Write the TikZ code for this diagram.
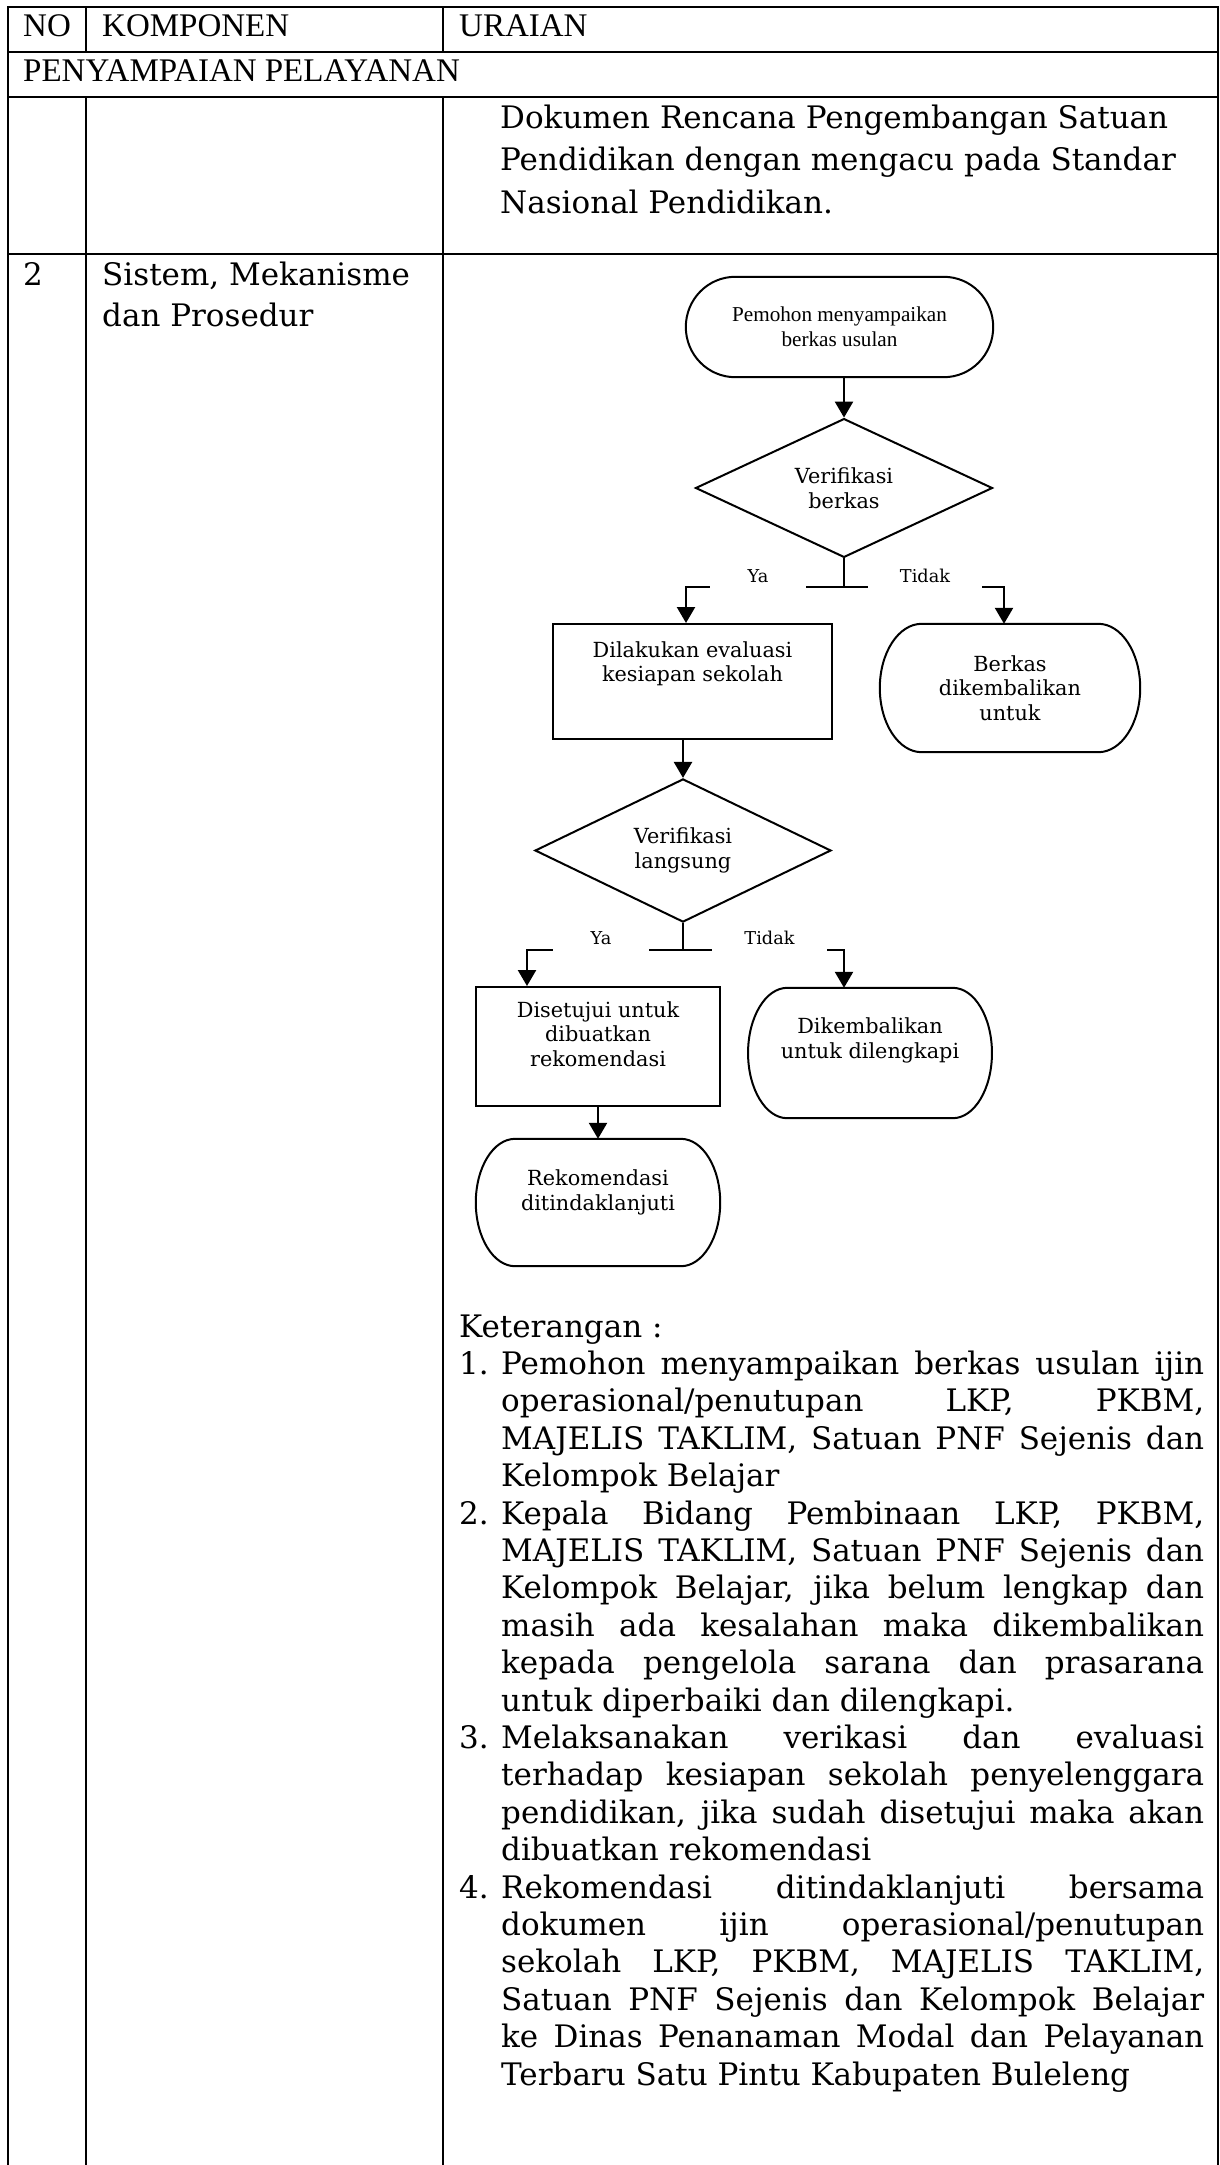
\documentclass[tikz,border=0pt]{standalone}
\usepackage{fontspec}
\setmainfont{Liberation Serif}
\newfontfamily\bk{DejaVu Serif}
\newfontfamily\tm{Liberation Serif}
\usetikzlibrary{arrows.meta,shapes.geometric,calc}

% terminator outline around a (frameless) node: straight top/bottom, half-ellipse ends
\newcommand\termshape[1]{%
  \draw[shp] let \p1=(#1.north west), \p2=(#1.south east),
    \n1={0.161*(\x2-\x1)}, \n2={0.5*(\y1-\y2)} in
    (\x1+\n1,\y1) -- (\x2-\n1,\y1)
    arc[start angle=90,end angle=-90,x radius=\n1,y radius=\n2]
    -- (\x1+\n1,\y2)
    arc[start angle=270,end angle=90,x radius=\n1,y radius=\n2] -- cycle;}

\newcommand\ketitem[1]{\par\noindent\hangindent=42pt\hangafter=1\makebox[42pt][l]{#1}\ignorespaces}

\begin{document}
\begin{tikzpicture}[x=1pt,y=1pt,
  grid/.style={line width=2.7pt},
  shp/.style={draw, line width=2pt},
  conn/.style={line width=2.4pt},
  arr/.style={conn, -{Triangle[length=16pt,width=18pt]}},
  hd/.style={font=\tm\fontsize{33}{38}\selectfont, anchor=base west, inner sep=0},
  bd/.style={font=\bk\fontsize{31}{42.5}\selectfont, anchor=base west, inner sep=0, align=left},
  flt/.style={font=\bk\fontsize{20.8}{24.5}\selectfont, align=center, inner sep=0},
  lbl/.style={font=\bk\fontsize{17.7}{20}\selectfont, fill=white, inner xsep=0, inner ysep=10pt, text depth=0pt, anchor=base}
]
\useasboundingbox (0,0) rectangle (1220,-2165);
\fill[white] (0,0) rectangle (1220,-2165);

% table frame and rules
\draw[grid, line join=miter] (8,-2175) -- (8,-7) -- (1218,-7) -- (1218,-2175);
\draw[grid] (8,-52) -- (1218,-52);
\draw[grid] (8,-97) -- (1218,-97);
\draw[grid] (8,-254) -- (1218,-254);
\draw[grid] (86,-7) -- (86,-52);
\draw[grid] (443,-7) -- (443,-52);
\draw[grid] (86,-97) -- (86,-2175);
\draw[grid] (443,-97) -- (443,-2175);

% header and section titles
\node[hd] (hno) at (23,-37) {NO};
\node[hd] (hkomp) at (102,-37) {KOMPONEN};
\node[hd] (hur) at (459,-37) {URAIAN};
\node[hd] (hsec) at (23,-82) {PENYAMPAIAN PELAYANAN};

% first body row (base anchor = baseline of the last line)
\node[bd] (dok) at (500,-213) {Dokumen Rencana Pengembangan Satuan\\Pendidikan dengan mengacu pada Standar\\Nasional Pendidikan.};

% second body row
\node[bd] (num2) at (23,-285) {2};
\node[bd, font=\bk\fontsize{31}{41}\selectfont] (komp2) at (102,-326) {Sistem, Mekanisme\\dan Prosedur};

% flowchart
\node[flt, font=\tm\fontsize{21.2}{25}\selectfont, minimum width=307pt, minimum height=100pt] (t1) at (839.5,-327) {Pemohon menyampaikan\\berkas usulan};
\termshape{t1}

\node[shp, diamond, flt, minimum width=297pt, minimum height=129pt] (d1) at (844,-488) {Verifikasi\\berkas};

\node[shp, rectangle, minimum width=279pt, minimum height=115pt] (b1) at (692.5,-681.5) {};
\node[flt, anchor=base] (b1t) at (692.5,-681.5) {Dilakukan evaluasi\\kesiapan sekolah};

\node[flt, minimum width=260pt, minimum height=128pt] (t2) at (1010,-688) {Berkas\\dikembalikan\\untuk};
\termshape{t2}

\node[shp, diamond, flt, minimum width=296pt, minimum height=128pt] (d2) at (683,-850.5) {Verifikasi\\langsung};

\node[shp, rectangle, minimum width=244pt, minimum height=119pt] (b2) at (598,-1046.5) {};
\node[flt, anchor=base] (b2t) at (598,-1066) {Disetujui untuk\\dibuatkan\\rekomendasi};

\node[flt, minimum width=243.5pt, minimum height=130pt] (t4) at (870,-1053) {};
\termshape{t4}
\node[flt, anchor=base] (t4t) at (870,-1058) {Dikembalikan\\untuk dilengkapi};

\node[flt, minimum width=244pt, minimum height=127pt] (t3) at (598,-1202.5) {};
\termshape{t3}
\node[flt, anchor=base] (t3t) at (598,-1210) {Rekomendasi\\ditindaklanjuti};

% connectors
\draw[arr] (d1.north |- t1.south) -- (d1.north);
\coordinate (j1) at ($(d1.center)+(0,-99)$);
\draw[conn] (d1.south) -- (j1);
\draw[arr] (j1) -| ([xshift=-6.5pt]b1.north);
\draw[arr] (j1) -| ([xshift=-6pt]t2.north);
\node[lbl, minimum width=96pt] (ya1) at (758,-582) {Ya};
\node[lbl, minimum width=114pt] (tidak1) at (925,-582) {Tidak};

\draw[arr] (d2.north |- b1.south) -- (d2.north);
\coordinate (j2) at ($(d2.center)+(0,-99.5)$);
\draw[conn] (d2.south) -- (j2);
\draw[arr] (j2) -| ([xshift=52pt]b2.north west);
\draw[arr] (j2) -| ([xshift=-26pt]t4.north);
\node[lbl, minimum width=96pt] (ya2) at (601,-944) {Ya};
\node[lbl, minimum width=115pt] (tidak2) at (769.5,-944) {Tidak};

\draw[arr] (b2.south) -- (t3.north);

% notes under the flowchart
\node[font=\bk\fontsize{31}{37.4}\selectfont, anchor=base west, inner sep=0, text width=745pt, align=justify] (ket) at (459,-1337) {%
\hyphenpenalty=10000 \exhyphenpenalty=10000 \tolerance=10000
\noindent Keterangan :
\ketitem{1.}Pemohon menyampaikan berkas usulan ijin\linebreak
operasional/penutupan LKP, PKBM,\linebreak
MAJELIS TAKLIM, Satuan PNF Sejenis dan\linebreak
Kelompok Belajar
\ketitem{2.}Kepala Bidang Pembinaan LKP, PKBM,\linebreak
MAJELIS TAKLIM, Satuan PNF Sejenis dan\linebreak
Kelompok Belajar, jika belum lengkap dan\linebreak
masih ada kesalahan maka dikembalikan\linebreak
kepada pengelola sarana dan prasarana\linebreak
untuk diperbaiki dan dilengkapi.
\ketitem{3.}Melaksanakan verikasi dan evaluasi\linebreak
terhadap kesiapan sekolah penyelenggara\linebreak
pendidikan, jika sudah disetujui maka akan\linebreak
dibuatkan rekomendasi
\ketitem{4.}Rekomendasi ditindaklanjuti bersama\linebreak
dokumen ijin operasional/penutupan\linebreak
sekolah LKP, PKBM, MAJELIS TAKLIM,\linebreak
Satuan PNF Sejenis dan Kelompok Belajar\linebreak
ke Dinas Penanaman Modal dan Pelayanan\linebreak
Terbaru Satu Pintu Kabupaten Buleleng\par};
\end{tikzpicture}
\end{document}
